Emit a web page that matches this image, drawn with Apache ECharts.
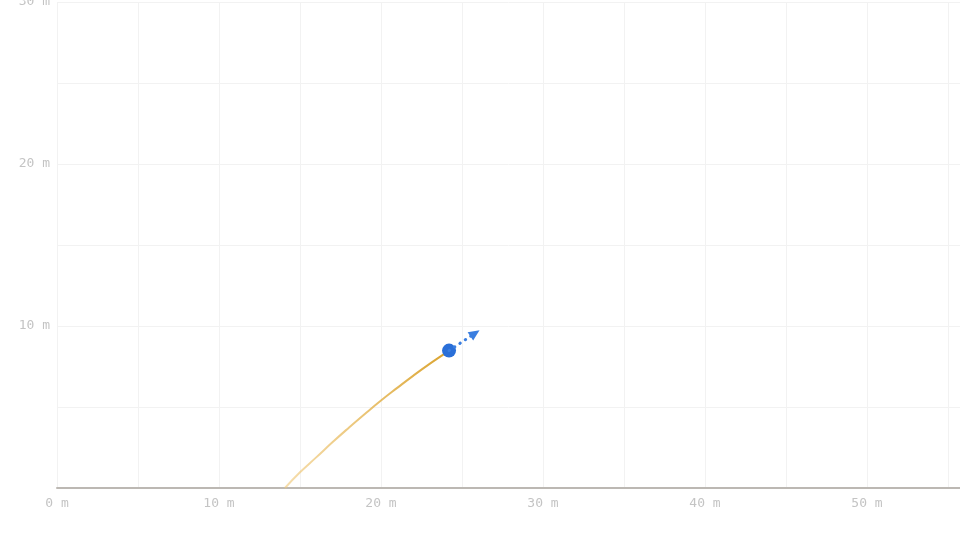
<!DOCTYPE html>
<html>
<head>
<meta charset="utf-8">
<script src="https://cdn.jsdelivr.net/npm/echarts@6/dist/echarts.min.js"></script>
<style>
html,body{margin:0;padding:0;background:#fff;}
#chart{width:960px;height:540px;}
</style>
</head>
<body>
<div id="chart"></div>
<script>
// Trajectory trail (x in m, height in m)
const trailX = [14.07, 15, 16, 17, 18, 19, 20, 21, 22, 23, 24, 24.2];
const trailY = [0, 0.97, 1.89, 2.82, 3.71, 4.57, 5.40, 6.18, 6.94, 7.66, 8.34, 8.48];
// Ball position
const ballPos = [24.2, 8.48];
// Velocity arrow end (arrow-head centre)
const arrowTip = [25.8, 9.55];
// Axis ranges / ticks
const xRange = [0, 55.74];
const yRange = [0, 30];
const gridStep = 5;
const labelStep = 10;

const trail = trailX.map((x, i) => [x, trailY[i]]);
const labelFmt = v => (Math.abs(v % labelStep) < 1e-6 && v !== 0) ? v + ' m' : '';
const xLabelFmt = v => (Math.abs(v % labelStep) < 1e-6) ? v + ' m' : '';
const font = "'DejaVu Sans Mono', monospace";

const chart = echarts.init(document.getElementById('chart'));
chart.setOption({
  animation: false,
  backgroundColor: '#ffffff',
  grid: { left: 57, right: 0, top: 2, bottom: 52, containLabel: false, outerBoundsMode: 'none' },
  xAxis: {
    type: 'value', min: xRange[0], max: xRange[1], interval: gridStep,
    axisLine: { show: true, lineStyle: { color: '#bcb8b3', width: 2 } },
    axisTick: { show: false },
    axisLabel: { formatter: xLabelFmt, color: '#c4c4c4', fontFamily: font, fontSize: 13, margin: 9, showMaxLabel: false },
    splitLine: { show: true, lineStyle: { color: '#f2f2f2', width: 1 } }
  },
  yAxis: {
    type: 'value', min: yRange[0], max: yRange[1], interval: gridStep,
    axisLine: { show: false },
    axisTick: { show: false },
    axisLabel: { formatter: labelFmt, color: '#c4c4c4', fontFamily: font, fontSize: 13, margin: 7 },
    splitLine: { show: true, lineStyle: { color: '#f2f2f2', width: 1 } }
  },
  series: [
    {
      type: 'line',
      data: trail,
      smooth: true,
      symbol: 'none',
      lineStyle: {
        width: 2,
        color: new echarts.graphic.LinearGradient(0, 0, 1, 0, [
          { offset: 0, color: 'rgba(240,200,120,0.6)' },
          { offset: 1, color: '#d9a12a' }
        ])
      },
      z: 2
    },
    {
      type: 'line',
      data: [ballPos, arrowTip],
      symbol: 'none',
      lineStyle: { width: 0, opacity: 0 },
      markLine: {
        silent: true,
        symbol: ['none', 'triangle'],
        symbolSize: [10, 11],
        label: { show: false },
        emphasis: { disabled: true },
        lineStyle: { color: '#3a7ee0', width: 3, type: [0.5, 6], cap: 'round', opacity: 1 },
        data: [[{ coord: ballPos }, { coord: arrowTip }]]
      },
      z: 3
    },
    {
      type: 'scatter',
      data: [ballPos],
      symbol: 'circle',
      symbolSize: 14,
      itemStyle: { color: '#2a6fd8', opacity: 1 },
      z: 4
    }
  ]
});
</script>
</body>
</html>
